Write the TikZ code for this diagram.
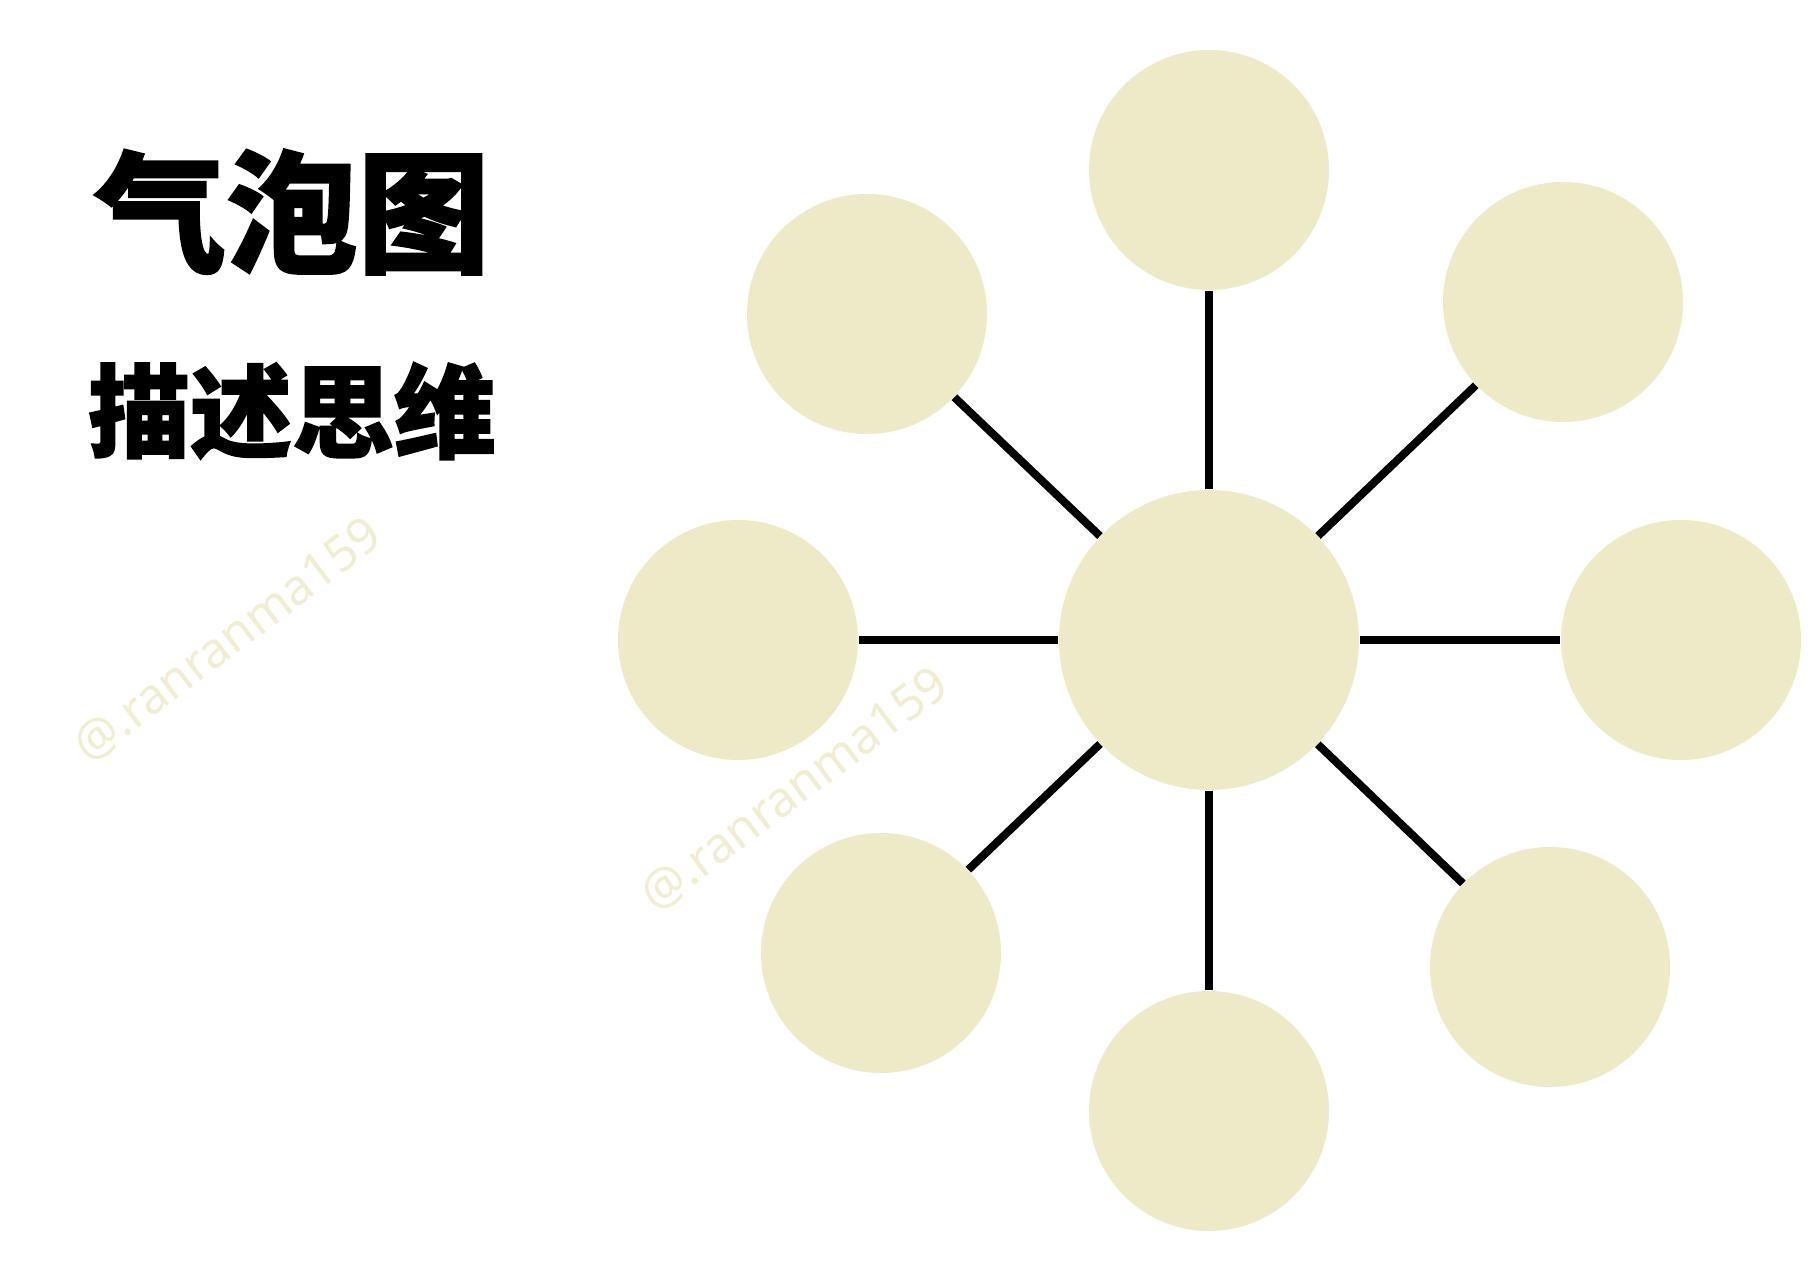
\documentclass[tikz,border=0pt]{standalone}
\usepackage{fontspec}
\newfontfamily\cjk{Noto Sans CJK SC}[BoldFeatures={FakeBold=1.5}]
\newfontfamily\wmfont{Noto Sans}
\usetikzlibrary{positioning}
\definecolor{bubblefill}{RGB}{238,233,199}
\definecolor{wmark}{RGB}{241,237,208}
\tikzset{
	bubble/.style={circle, fill=bubblefill, minimum size=2.4cm, inner sep=0pt},
	hub/.style={bubble, minimum size=3cm},
	spoke/.style={line width=0.08cm, black},
	wmtext/.style={text=wmark, font=\wmfont\fontsize{14}{14}\selectfont, rotate=37}
}

\begin{document}
\begin{tikzpicture}

					\useasboundingbox (0,0) rectangle (18.14,-12.8);
					
					% titles
					\node[font=\cjk\bfseries\fontsize{37.5}{37.5}\selectfont] (title) at (2.92,-2.12) {气泡图};
					\node[font=\cjk\bfseries\fontsize{29}{29}\selectfont] (subtitle) at (2.92,-4.11) {描述思维};
					
					% watermarks
					\node[wmtext] (wmleft) at (2.28,-6.41) {@.ranranma159};
					\node[wmtext] (wmmid) at (7.95,-7.90) {@.ranranma159};
					
					% bubbles
					\node[hub] (centre) at (12.09,-6.40) {};
					
					\node[bubble] (top) at (12.09,-1.70) {};
					\node[bubble] (upleft) at (8.67,-3.14) {};
					\node[bubble] (upright) at (15.63,-3.02) {};
					\node[bubble] (left) at (7.38,-6.40) {};
					\node[bubble] (right) at (16.81,-6.40) {};
					\node[bubble] (lowleft) at (8.81,-9.53) {};
					\node[bubble] (lowright) at (15.50,-9.67) {};
					\node[bubble] (bottom) at (12.09,-11.11) {};
					
					% spokes
					\draw[spoke] (centre) -- (top);
					\draw[spoke] (centre) -- (upleft);
					\draw[spoke] (centre) -- (upright);
					\draw[spoke] (centre) -- (left);
					\draw[spoke] (centre) -- (right);
					\draw[spoke] (centre) -- (lowleft);
					\draw[spoke] (centre) -- (lowright);
					\draw[spoke] (centre) -- (bottom);
					
\end{tikzpicture}
\end{document}
